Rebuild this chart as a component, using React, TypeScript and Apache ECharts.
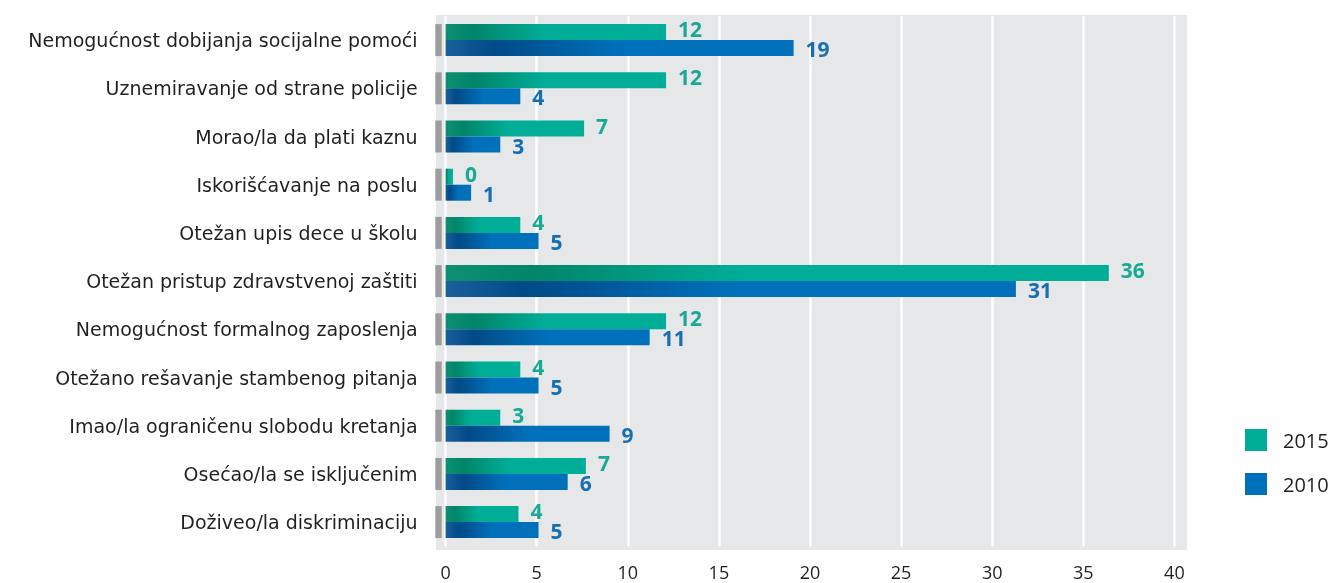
import React, { useEffect, useRef } from "react";
import * as echarts from "echarts";

const categories = [
  "Nemogućnost dobijanja socijalne pomoći",
  "Uznemiravanje od strane policije",
  "Morao/la da plati kaznu",
  "Iskorišćavanje na poslu",
  "Otežan upis dece u školu",
  "Otežan pristup zdravstvenoj zaštiti",
  "Nemogućnost formalnog zaposlenja",
  "Otežano rešavanje stambenog pitanja",
  "Imao/la ograničenu slobodu kretanja",
  "Osećao/la se isključenim",
  "Doživeo/la diskriminaciju",
];

const values2015 = [12.1, 12.1, 7.6, 0.4, 4.1, 36.4, 12.1, 4.1, 3.0, 7.7, 4.0];
const values2010 = [19.1, 4.1, 3.0, 1.4, 5.1, 31.3, 11.2, 5.1, 9.0, 6.7, 5.1];
const labels2015 = ["12", "12", "7", "0", "4", "36", "12", "4", "3", "7", "4"];
const labels2010 = ["19", "4", "3", "1", "5", "31", "11", "5", "9", "6", "5"];
const xTicks = { min: 0, max: 40, interval: 5 };

const FONT = "'Open Sans', sans-serif";
const CAT_FONT = "'DejaVu Sans', sans-serif";
const TEXT = "#231f20";

export default function App() {
  const ref = useRef<HTMLDivElement>(null);

  useEffect(() => {
    if (!ref.current) return;
    const chart = echarts.init(ref.current, null, { renderer: "svg" });

    const green = {
      type: "linear",
      x: 0, y: 0, x2: 1, y2: 0,
      colorStops: [
        { offset: 0, color: "#0e8f72" },
        { offset: 0.13, color: "#00856a" },
        { offset: 0.45, color: "#00ad97" },
        { offset: 1, color: "#00ad97" },
      ],
    };
    const blue = {
      type: "linear",
      x: 0, y: 0, x2: 1, y2: 0,
      colorStops: [
        { offset: 0, color: "#1a5f9c" },
        { offset: 0.14, color: "#004a87" },
        { offset: 0.5, color: "#0070ba" },
        { offset: 1, color: "#0070ba" },
      ],
    };

    chart.setOption({
      animation: false,
      textStyle: { fontFamily: FONT },
      graphic: [
        {
          type: "rect",
          z: -10,
          silent: true,
          shape: { x: 436, y: 15, width: 751, height: 535 },
          style: { fill: "#e6e7e8" },
        },
      ],
      grid: { left: 445.6, right: 157.6, top: 16, bottom: 36.8, containLabel: false },
      legend: {
        orient: "vertical",
        left: 1240,
        top: 424,
        itemWidth: 22,
        itemHeight: 22,
        itemGap: 22,
        icon: "rect",
        textStyle: { fontSize: 20, color: TEXT, fontFamily: FONT, padding: [0, 0, 0, 11] },
        data: [
          { name: "2015", itemStyle: { color: "#00ad97" } },
          { name: "2010", itemStyle: { color: "#0070ba" } },
        ],
      },
      xAxis: {
        type: "value",
        min: xTicks.min,
        max: xTicks.max,
        interval: xTicks.interval,
        axisLine: { show: false },
        axisTick: { show: false },
        splitLine: { show: true, lineStyle: { color: "#ffffff", width: 2.5 } },
        axisLabel: { fontSize: 18, lineHeight: 14, color: TEXT, margin: 18.5, fontFamily: FONT },
      },
      yAxis: {
        type: "category",
        inverse: true,
        data: categories,
        axisLine: { show: false },
        axisTick: { show: false },
        splitLine: { show: false },
        axisLabel: { fontSize: 19, color: TEXT, margin: 28, fontFamily: CAT_FONT },
      },
      series: [
        {
          name: "2015",
          type: "bar",
          data: values2015,
          barWidth: 16,
          barGap: "0%",
          itemStyle: { color: green },
          label: {
            show: true,
            position: "right",
            distance: 12,
            offset: [0, -3],
            formatter: (p: any) => labels2015[p.dataIndex],
            fontSize: 21,
            fontWeight: "bold",
            color: "#17a994",
            fontFamily: FONT,
          },
        },
        {
          name: "2010",
          type: "bar",
          data: values2010,
          barWidth: 16,
          barGap: "0%",
          itemStyle: { color: blue },
          label: {
            show: true,
            position: "right",
            distance: 12,
            offset: [0, 1],
            formatter: (p: any) => labels2010[p.dataIndex],
            fontSize: 21,
            fontWeight: "bold",
            color: "#156fb5",
            fontFamily: FONT,
          },
        },
        {
          name: "marker",
          type: "custom",
          silent: true,
          data: categories.map((c, i) => [0, i]),
          encode: { x: 0, y: 1 },
          renderItem: (params: any, api: any) => {
            const p = api.coord([0, api.value(1)]);
            return {
              type: "rect",
              shape: { x: p[0] - 10.3, y: p[1] - 16, width: 6.4, height: 32 },
              style: { fill: "#9d9d9d" },
            };
          },
        },
      ],
    });

    return () => chart.dispose();
  }, []);

  return (
    <div
      ref={ref}
      style={{ position: "fixed", left: 0, top: 0, width: 1332, height: 583 }}
    />
  );
}
